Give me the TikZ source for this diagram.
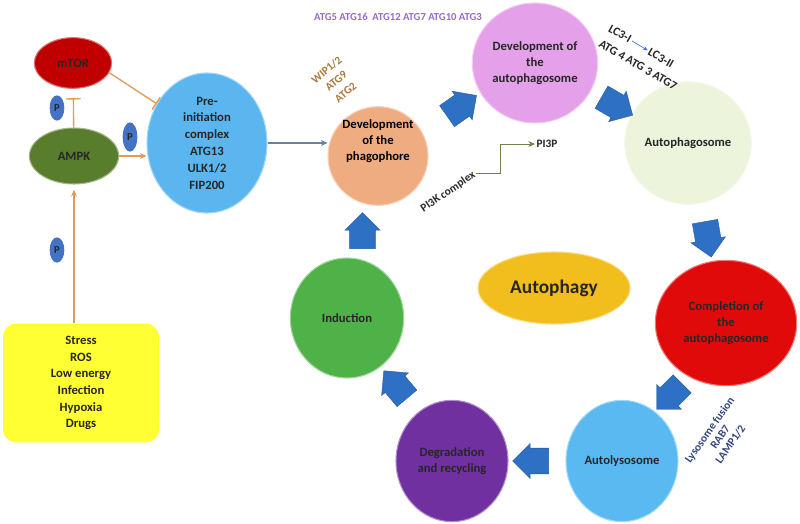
\documentclass[tikz,border=0pt]{standalone}
\usepackage{fontspec}
\setmainfont{Carlito}
\usetikzlibrary{arrows.meta, positioning, shapes.geometric, shapes.arrows, calc}

\definecolor{cMtor}{RGB}{192,0,0}
\definecolor{cAmpk}{RGB}{88,125,45}
\definecolor{cP}{RGB}{68,114,196}
\definecolor{cPre}{RGB}{91,181,238}
\definecolor{cPhag}{RGB}{238,172,128}
\definecolor{cDev}{RGB}{228,160,232}
\definecolor{cApg}{RGB}{236,244,220}
\definecolor{cComp}{RGB}{225,10,10}
\definecolor{cAlys}{RGB}{90,185,240}
\definecolor{cDeg}{RGB}{112,48,160}
\definecolor{cInd}{RGB}{78,178,72}
\definecolor{cAuto}{RGB}{242,190,30}
\definecolor{cStress}{RGB}{255,255,51}
\definecolor{cBlock}{RGB}{46,112,196}
\definecolor{cLine}{RGB}{222,155,90}
\definecolor{cPurple}{RGB}{150,105,200}
\definecolor{cBrown}{RGB}{170,120,60}
\definecolor{cNavy}{RGB}{50,70,130}
\definecolor{cOlive}{RGB}{110,130,80}
\definecolor{cSteel}{RGB}{100,130,160}

\begin{document}
\begin{tikzpicture}[
  x = 0.75pt, y = -0.75pt,
  font = \bfseries\fontsize{9.5}{11.8}\selectfont,
  stage/.style = {ellipse, fill=#1, draw=#1!55!white, line width=0.8pt,
                  align=center, text=black!85, inner sep=1pt},
  phos/.style  = {ellipse, fill=cP, inner sep=0pt, minimum width=11pt,
                  minimum height=19pt, text=black!85,
                  font=\bfseries\fontsize{8}{9}\selectfont},
  cause/.style = {rectangle, rounded corners=10pt, fill=cStress, align=center,
                  minimum width=117pt, minimum height=89pt, text=black!85,
                  font=\bfseries\fontsize{9.5}{12.5}\selectfont},
  note/.style  = {align=center, inner sep=1pt, text=black!85,
                  font=\bfseries\fontsize{8.5}{10}\selectfont},
  flow/.style  = {single arrow, fill=cBlock, draw=cBlock!80!black, line width=0.3pt,
                  minimum height=27pt, inner xsep=0pt, inner ysep=9.5pt,
                  single arrow head extend=3.5pt},
  act/.style   = {-{Stealth[length=5pt,width=4.5pt]}, cLine, line width=1pt},
  inhib/.style = {-{Bar[width=11pt]}, cLine, line width=1pt},
  link/.style  = {-{Stealth[length=5pt,width=4.5pt]}, line width=0.8pt},
]
\useasboundingbox (0,0) rectangle (800,524);

\node[stage=cMtor, minimum width=58pt, minimum height=38pt] (mtor) at (73,63) {mTOR};
\node[stage=cAmpk, minimum width=67pt, minimum height=42pt] (ampk) at (74,156) {AMPK};
\node[stage=cPre, minimum width=90pt, minimum height=105pt,
      font=\bfseries\fontsize{9.5}{12.6}\selectfont] (pre) at (207,143)
      {Pre-\\initiation\\complex\\ATG13\\ULK1/2\\FIP200};
\node[cause] (stress) at (81,383) {Stress\\ROS\\Low energy\\Infection\\Hypoxia\\Drugs};

\node[phos] (p1) at (57,108) {P};
\node[phos, minimum height=22pt] (p2) at (130,137) {P};
\node[phos] (p3) at (57,250) {P};

\node[stage=cPhag, minimum width=75pt, minimum height=74pt,
      label={[name=phagtxt, align=center, yshift=11pt]center:Development\\of the\\phagophore}]
      (phag) at (378,156) {};
\node[stage=cDev, minimum width=94pt, minimum height=90pt] (dev) at (535,63) {Development of\\the\\autophagosome};
\node[stage=cApg, minimum width=95pt, minimum height=92pt] (apg) at (688,143) {Autophagosome};
\node[stage=cComp, minimum width=106pt, minimum height=94pt] (comp) at (726,323) {Completion of\\the\\autophagosome};
\node[stage=cAlys, minimum width=84pt, minimum height=91pt] (alys) at (622,461) {Autolysosome};
\node[stage=cDeg, minimum width=84pt, minimum height=91pt] (deg) at (452,461) {Degradation\\and recycling};
\node[stage=cInd, minimum width=85pt, minimum height=90pt] (ind) at (347,318) {Induction};
\node[stage=cAuto, minimum width=114pt, minimum height=54pt,
      font=\bfseries\fontsize{14.5}{16}\selectfont] (auto) at (554,288) {Autophagy};

\node[flow, rotate=90]  (f1) at ($(ind)!0.5!(phag)$) {};
\node[flow, rotate=35]  (f2) at ($(phag)!0.5!(dev)$) {};
\node[flow, rotate=-30] (f3) at ($(dev)!0.5!(apg)$) {};
\node[flow, rotate=-80] (f4) at ($(apg)!0.5!(comp)$) {};
\node[flow, rotate=225] (f5) at ($(comp)!0.5!(alys)$) {};
\node[flow, rotate=180] (f6) at ($(alys)!0.5!(deg)$) {};
\node[flow, rotate=130] (f7) at ($(deg)!0.5!(ind)$) {};

\node[note, text=cPurple, font=\bfseries\fontsize{8}{9}\selectfont] (atgtop) at (398,17)
      {ATG5 ATG16\ \ ATG12 ATG7 ATG10 ATG3};
\node[note, text=cBrown, rotate=40, font=\bfseries\fontsize{8.5}{11}\selectfont] (wip) at (336,81)
      {WIP1/2\\ATG9\\ATG2};
\node[note, rotate=34] (pik) at (448,192) {PI3K complex};
\node[note] (pip) at (547,144) {PI3P};
\node[note, rotate=-30, font=\bfseries\fontsize{9}{10}\selectfont] (lc3a) at (620,34) {LC3-I};
\node[note, rotate=-30, font=\bfseries\fontsize{9}{10}\selectfont] (lc3b) at (661,58) {LC3-II};
\node[note, rotate=-30, font=\bfseries\fontsize{9}{10}\selectfont] (atgs) at (638,65) {ATG 4 ATG 3 ATG7};
\node[note, text=cNavy, rotate=55, font=\bfseries\fontsize{8.5}{9.5}\selectfont] (lyso) at (720,437)
      {Lysosome fusion\\RAB7\\LAMP1/2};

\draw[inhib, shorten >=7pt] (ampk) -- (mtor);
\draw[inhib] (mtor.-15) -- (pre.142);
\draw[act] (ampk.east) -- (ampk.east -| pre.west);
\draw[act, shorten >=4pt] (stress.north -| ampk) -- (ampk.south);
\draw[link, cSteel] (pre.east) -- (pre.east -| phag.west);
\draw[link, cOlive, line width=0.6pt] (pik.east) -- ++(25,0) |- (pip.west);
\draw[-{Stealth[length=3.5pt,width=3pt]}, cP, line width=0.5pt] (lc3a.east) -- (lc3b.west);
\end{tikzpicture}
\end{document}
